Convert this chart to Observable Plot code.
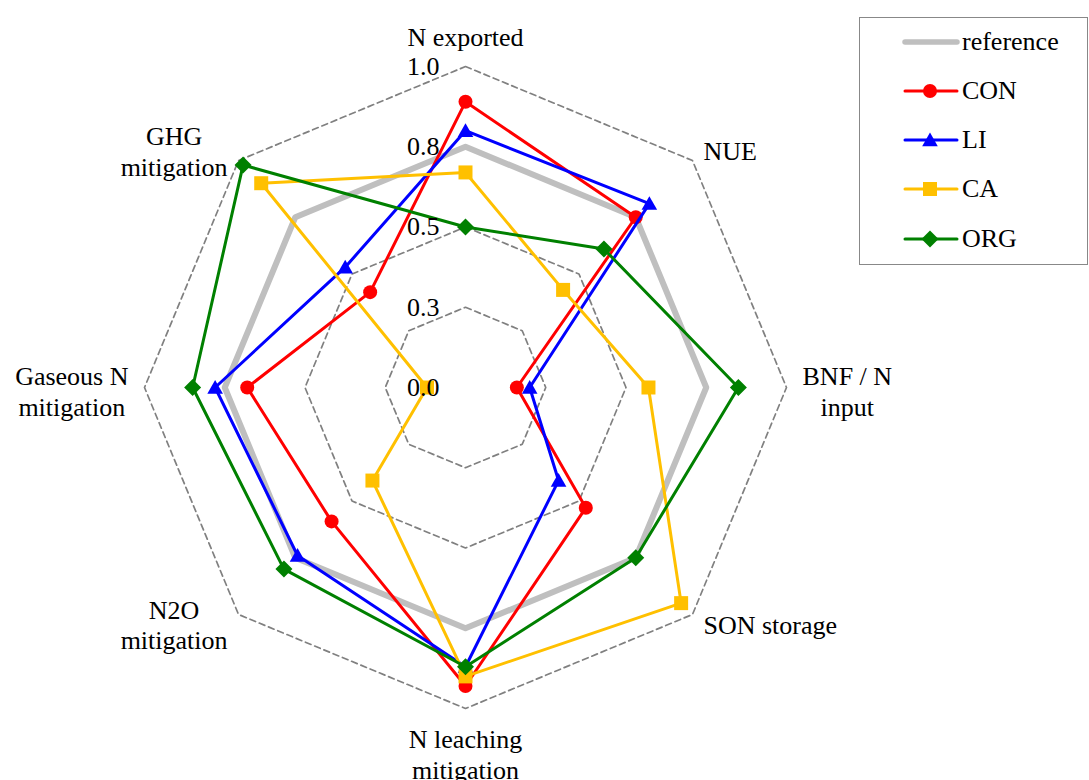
<!DOCTYPE html>
<html><head><meta charset="utf-8">
<script src="https://cdn.jsdelivr.net/npm/d3@7"></script>
<script src="https://cdn.jsdelivr.net/npm/@observablehq/plot@0.6"></script>
<style>
body{margin:0;background:#fff;}
#wrap{position:relative;width:1089px;height:780px;font-family:"Liberation Serif","Times New Roman",serif;}
#wrap svg text{text-rendering:optimizeLegibility;}
#legend{position:absolute;left:859px;top:17px;width:229px;height:248px;border:1.5px solid #888;box-sizing:border-box;background:#fff;}
.row{position:absolute;left:0;height:40px;display:flex;align-items:center;}
.row span{font-size:26px;color:#000;line-height:40px;}
</style></head>
<body><div id="wrap"></div>
<script>
// ---- data ----
const axisNames = ["N exported", "NUE", "BNF / N input", "SON storage", "N leaching mitigation", "N2O mitigation", "Gaseous N mitigation", "GHG mitigation"];
const axisLabels = ["N exported", "NUE", "BNF / N\ninput", "SON storage", "N leaching\nmitigation", "N2O\nmitigation", "Gaseous N\nmitigation", "GHG\nmitigation"];
const seriesNames = ["reference", "CON", "LI", "CA", "ORG"];
const reference = [0.75, 0.75, 0.75, 0.75, 0.75, 0.75, 0.75, 0.75];
const CON = [0.89, 0.75, 0.16, 0.53, 0.93, 0.59, 0.68, 0.42];
const LI  = [0.80, 0.81, 0.20, 0.41, 0.87, 0.74, 0.78, 0.53];
const CA  = [0.67, 0.43, 0.57, 0.95, 0.90, 0.41, 0.12, 0.90];
const ORG = [0.50, 0.61, 0.85, 0.75, 0.87, 0.80, 0.85, 0.98];
const tickValues = [0, 0.25, 0.5, 0.75, 1.0];
const tickLabels = ["0.0", "0.3", "0.5", "0.8", "1.0"];

// ---- styles ----
const seriesValues = {reference, CON, LI, CA, ORG};
const colors = {reference: "#bfbfbf", CON: "#ff0000", LI: "#0000ff", CA: "#ffc000", ORG: "#008000"};
const widths = {reference: 6, CON: 3, LI: 3, CA: 3, ORG: 3};
const symbols = {
  CON: {draw(c){ c.moveTo(7,0); c.arc(0,0,7,0,2*Math.PI); c.closePath(); }},
  LI:  {draw(c){ c.moveTo(0,-7.5); c.lineTo(7.8,6.2); c.lineTo(-7.8,6.2); c.closePath(); }},
  CA:  {draw(c){ c.rect(-7,-7,14,14); }},
  ORG: {draw(c){ c.moveTo(0,-8.5); c.lineTo(8.5,0); c.lineTo(0,8.5); c.lineTo(-8.5,0); c.closePath(); }}
};
const legendSvg = {
  CON: '<circle cx="0" cy="0" r="7"/>',
  LI: '<polygon points="0,-7.5 7.8,6.2 -7.8,6.2"/>',
  CA: '<rect x="-7" y="-7" width="14" height="14"/>',
  ORG: '<polygon points="0,-8.5 8.5,0 0,8.5 -8.5,0"/>'
};

const W = 1089, H = 780, CX = 465, CY = 387, R = 321;
const FONT = "Liberation Serif";
const n = axisNames.length;
const ang = i => i * 2 * Math.PI / n;
const polar = (v, i) => ({x: v * Math.sin(ang(i)), y: v * Math.cos(ang(i))});

// rings
const rings = [];
tickValues.filter(t => t > 0).forEach(t => {
  for (let i = 0; i < n; i++) rings.push({level: t, ...polar(t, i)});
});

// series points
const points = {};
seriesNames.forEach(s => {
  points[s] = seriesValues[s].map((v, i) => ({series: s, axis: axisNames[i], value: v, ...polar(v, i)}));
});

// axis label positions
const ctx = document.createElement("canvas").getContext("2d");
ctx.font = `26px '${FONT}'`;
const lineGap = 30.5;
const labelData = axisLabels.map((txt, i) => {
  const s = Math.sin(ang(i)), c = Math.cos(ang(i));
  const lines = txt.split("\n");
  const w = Math.max(...lines.map(l => ctx.measureText(l).width));
  const blockH = (lines.length - 1) * lineGap;
  let px, py;
  const vx = R * s, vy = R * c;
  if (Math.abs(s) < 0.01) {
    px = 0; py = vy + Math.sign(c) * (30 + blockH / 2);
  } else {
    const side = Math.abs(c) < 0.01;
    px = vx + Math.sign(s) * ((side ? 16 : 11) + w / 2);
    py = vy + (side ? -3 : Math.sign(c) * 10);
  }
  return {text: txt, x: px / R, y: py / R};
});

const tickData = tickValues.map((t, k) => ({x: 0, y: t, label: tickLabels[k]}));

const marks = [
  Plot.line(rings, {x: "x", y: "y", z: "level", curve: "linear-closed", stroke: "#808080", strokeWidth: 1.7, strokeDasharray: "6,4"})
];
seriesNames.forEach(s => {
  marks.push(Plot.line(points[s], {x: "x", y: "y", curve: "linear-closed", stroke: colors[s], strokeWidth: widths[s], strokeLinejoin: "round"}));
  if (symbols[s]) marks.push(Plot.dot(points[s], {x: "x", y: "y", symbol: symbols[s], r: 7, fill: colors[s], stroke: "none"}));
});
marks.push(Plot.text(labelData, {x: "x", y: "y", text: "text", textAnchor: "middle", lineAnchor: "middle", lineHeight: lineGap / 26, fontSize: 26, fontFamily: FONT, fill: "black"}));
marks.push(Plot.text(tickData, {x: "x", y: "y", text: "label", textAnchor: "end", dx: -26, fontSize: 26, fontFamily: FONT, fill: "black"}));

const chart = Plot.plot({
  width: W, height: H, margin: 0,
  x: {domain: [-CX / R, (W - CX) / R], axis: null},
  y: {domain: [-(H - CY) / R, CY / R], axis: null},
  style: {fontFamily: FONT, fontSize: "26px", background: "white", overflow: "visible"},
  marks
});
const wrap = document.getElementById("wrap");
wrap.appendChild(chart);

// legend
const legend = document.createElement("div");
legend.id = "legend";
seriesNames.forEach((s, k) => {
  const row = document.createElement("div");
  row.className = "row";
  row.style.top = (25 + k * 49.3 - 20 - 1.5) + "px";
  const mk = legendSvg[s] ? `<g transform="translate(28,20)" fill="${colors[s]}">${legendSvg[s]}</g>` : "";
  row.innerHTML = `<svg width="58" height="40" style="margin-left:42px;margin-right:2px"><line x1="3" y1="20" x2="55" y2="20" stroke="${colors[s]}" stroke-width="${s === 'reference' ? 5.5 : 3}" stroke-linecap="round"/>${mk}</svg><span>${s}</span>`;
  legend.appendChild(row);
});
wrap.appendChild(legend);
</script>
</body></html>
